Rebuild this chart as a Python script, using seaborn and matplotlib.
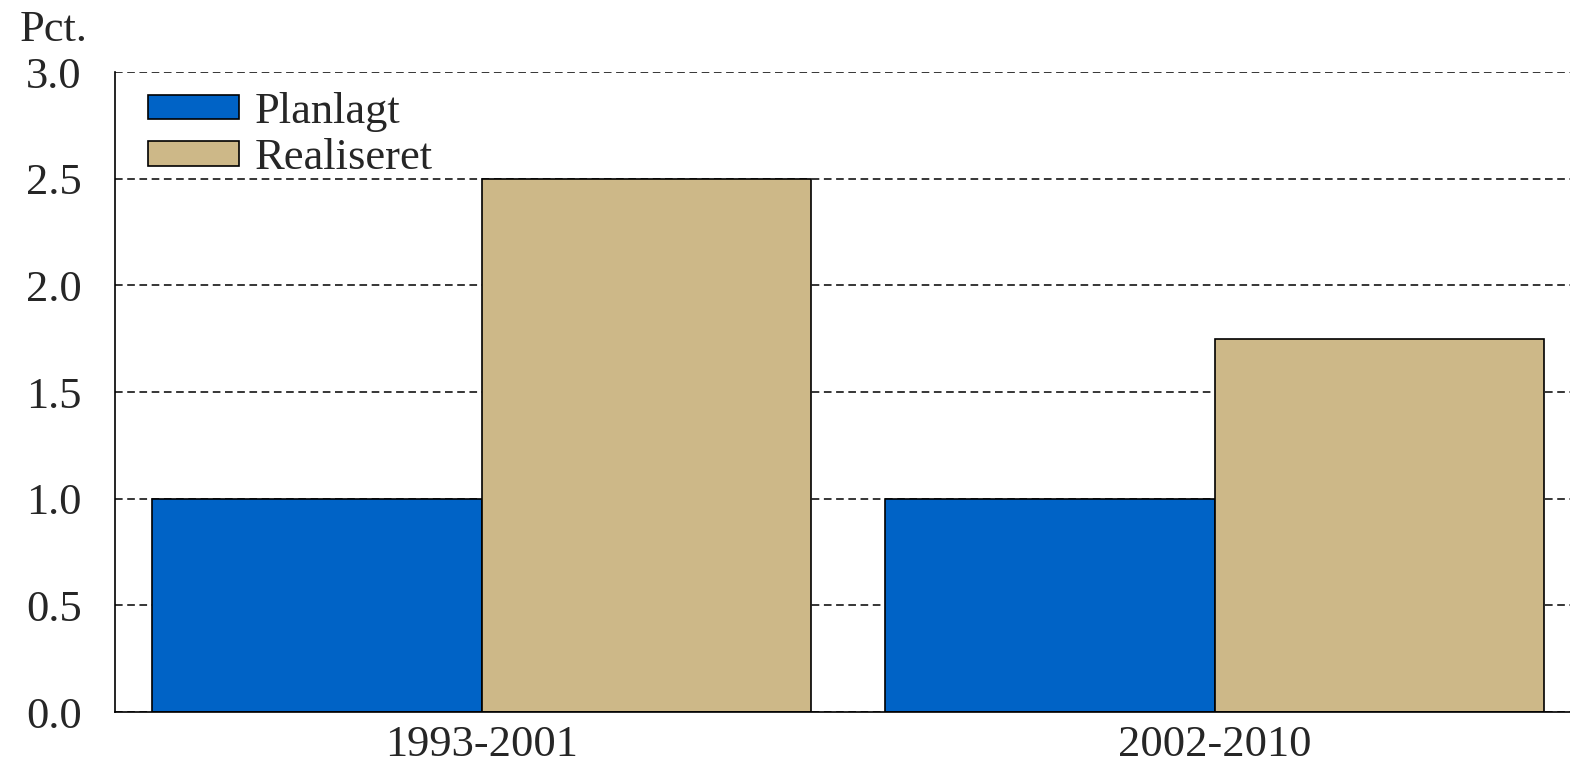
import pandas as pd
import matplotlib
matplotlib.use('Agg')
import matplotlib.pyplot as plt
import seaborn as sns

# Chart data
periods = ['1993-2001', '2002-2010']
planlagt = [1.0, 1.0]
realiseret = [2.5, 1.75]
series_names = ['Planlagt', 'Realiseret']
y_ticks = [0.0, 0.5, 1.0, 1.5, 2.0, 2.5, 3.0]

df = pd.DataFrame({
    'periode': periods * 2,
    'serie': [series_names[0]] * len(periods) + [series_names[1]] * len(periods),
    'pct': planlagt + realiseret,
})

sns.set_style('white')
plt.rcParams['font.family'] = ['Liberation Serif', 'DejaVu Serif']
plt.rcParams['font.size'] = 32

fig = plt.figure(figsize=(15.7, 7.68), dpi=100)
# axes run past the right edge, as in the original
ax = fig.add_axes([115 / 1570, 56 / 768, 1466 / 1570, 640 / 768])

sns.barplot(data=df, x='periode', y='pct', hue='serie',
            palette=['#0063C6', '#CDB888'], edgecolor='black', linewidth=1.2,
            width=0.9, saturation=1, ax=ax)

ax.set_xlim(-0.5, 1.5)
ax.set_ylim(0, 3.0)
ax.set_yticks(y_ticks)
ax.set_yticklabels([f'{v:.1f}' for v in y_ticks])
ax.set_xlabel('')
ax.set_ylabel('')

# category boundary ticks below the axis
ax.set_xticks([-0.5, 0.5, 1.5], minor=True)
ax.tick_params(axis='x', which='major', length=0, pad=9, labelsize=32)
ax.tick_params(axis='x', which='minor', length=8, width=1.2, direction='out', color='black')
ax.tick_params(axis='y', length=10, width=1.2, direction='out', color='black', pad=14, labelsize=32)

ax.yaxis.grid(True, linestyle=(0, (5, 3)), color='black', linewidth=1.1)
ax.set_axisbelow(True)

for side in ['top', 'right']:
    ax.spines[side].set_visible(False)
for side in ['left', 'bottom']:
    ax.spines[side].set_color('black')
    ax.spines[side].set_linewidth(1.2)

leg = ax.legend(loc='upper left', bbox_to_anchor=(0.004, 1.011), frameon=False,
                fontsize=32, handlelength=2.05, handleheight=0.47,
                handletextpad=0.35, labelspacing=0.15, borderaxespad=0.3,
                borderpad=0.3)
for h in leg.legend_handles:
    h.set_edgecolor('black')
    h.set_linewidth(1.2)

fig.text(20 / 1570, 1 - 30 / 768, 'Pct.', fontsize=32, va='center', ha='left')

plt.savefig('out.png', dpi=100)
plt.close()
